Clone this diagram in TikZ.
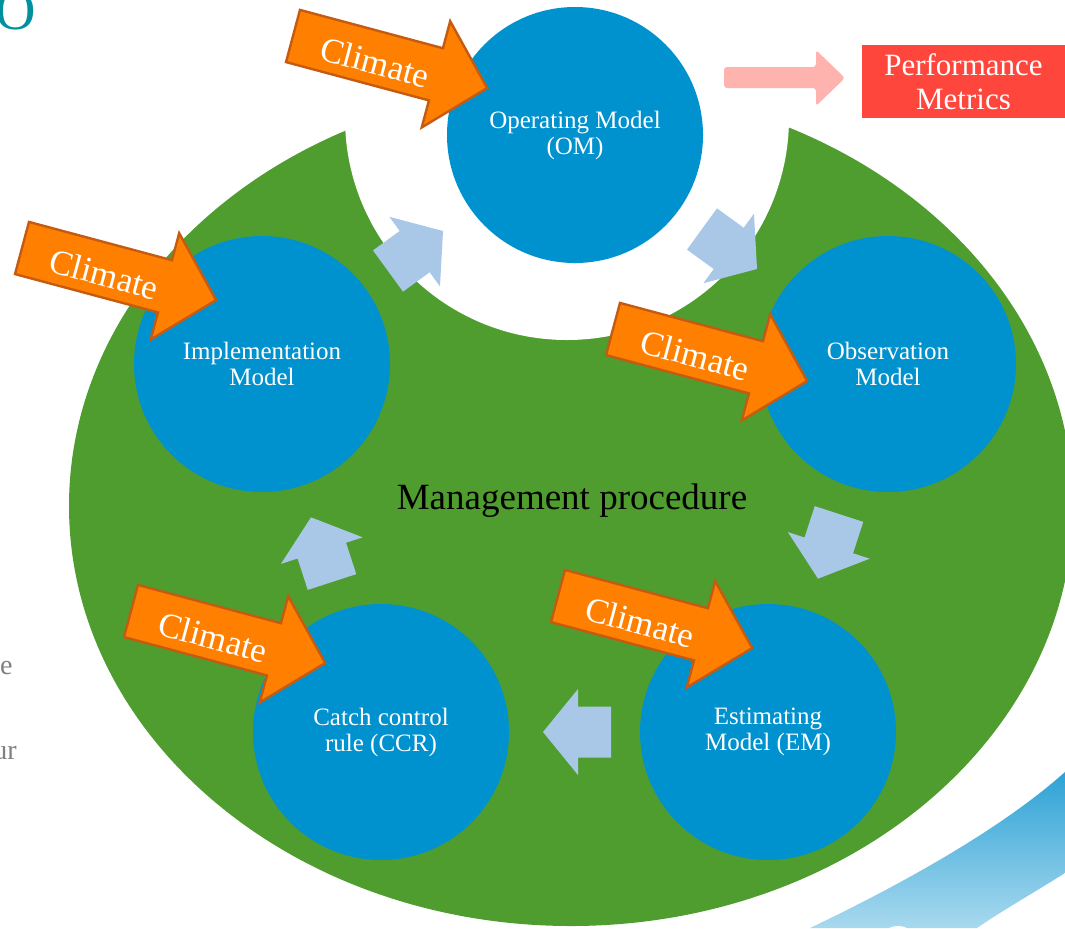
\documentclass[tikz,border=0pt]{standalone}
\usepackage{fontspec}
\setmainfont{Liberation Serif}
\usetikzlibrary{positioning,calc}

\definecolor{mpgreen}{HTML}{4F9D2F}
\definecolor{modelblue}{HTML}{0092CF}
\definecolor{flowblue}{HTML}{A9C7E6}
\definecolor{climfill}{HTML}{FF8000}
\definecolor{climedge}{HTML}{C55A11}
\definecolor{perfred}{HTML}{FF463C}
\definecolor{perfpink}{HTML}{FFB3AE}
\definecolor{titleteal}{HTML}{00909E}
\definecolor{swooshtop}{HTML}{2EA2D6}
\definecolor{swooshbot}{HTML}{A8D9EE}

% orange arrow: tail middle, angle, name
\newcommand{\climatearrow}[3]{%
  \begin{scope}[shift={#1},rotate=#2]
    \draw[climate] (0,-27) -- (148,-27) -- (148,-55) -- (201,0) -- (148,55) -- (148,27) -- (0,27) -- cycle;
    \node[climatetext,rotate=#2] (#3) at (86,4) {Climate};
  \end{scope}}
% light blue arrow: tail middle, angle
\newcommand{\flowarrow}[2]{%
  \fill[flowblue,shift={#1},rotate=#2] (0,-25.5) -- (33,-25.5) -- (33,-43) -- (68,0) -- (33,43) -- (33,25.5) -- (0,25.5) -- cycle;}

\begin{document}
\begin{tikzpicture}[x=0.5pt,y=-0.5pt,
    model/.style={circle,fill=modelblue,minimum size=128pt,inner sep=0pt,align=center,
      text=white,font=\fontsize{12.5}{13}\selectfont},
    climate/.style={fill=climfill,draw=climedge,line width=1.2pt,line join=miter},
    climatetext/.style={text=white,font=\fontsize{17.5}{17.5}\selectfont,inner sep=0pt},
    slidetext/.style={anchor=base east,text=gray,font=\fontsize{14}{14}\selectfont,inner sep=0pt}]
    \useasboundingbox (0,0) rectangle (1065,928);
    \clip (0,0) rectangle (1065,928);
    % background shapes
    \fill[mpgreen] (571,506) ellipse [x radius=502, y radius=420];
    \fill[white] (567,118) circle [radius=222];
    \shade[top color=swooshtop,bottom color=swooshbot] (810,928) .. controls (900,885) and (1000,830) .. (1065,772)
      -- (1065,873) .. controls (1030,895) and (1000,912) .. (977,928) -- cycle;
    \fill[white] (898,946) circle [radius=20];
    % cut-off slide text
    \node[anchor=base east,text=titleteal,font=\fontsize{28}{28}\selectfont,inner sep=0pt] (title) at (36,29) {O};
    \node[slidetext] (texte) at (13,674) {e};
    \node[slidetext] (textur) at (17,759) {ur};
    % models
    \node[model] (om) at (575,135) {Operating Model\\(OM)};
    \node[model] (impl) at (262,364) {Implementation\\Model};
    \node[model] (obs) at (888,364) {Observation\\Model};
    \node[model] (ccr) at (381,732) {Catch control\\rule (CCR)};
    \node[model] (em) at (768,732) {Estimating\\Model (EM)};
    \node[font=\fontsize{18.5}{18.5}\selectfont] (mp) at (572,501) {Management procedure};
    % cycle arrows
    \flowarrow{(388,271)}{36}
    \flowarrow{(702,229)}{-36}
    \flowarrow{(839,514)}{-108}
    \flowarrow{(611,732)}{180}
    \flowarrow{(332,582)}{108}
    % performance
    \fill[perfpink,rounded corners=1.5pt] (724,67) -- (816,67) -- (816,50) -- (845,78) -- (816,106) -- (816,88) -- (724,88) -- cycle;
    \node[fill=perfred,text=white,minimum width=101.5pt,minimum height=36.5pt,inner sep=0pt,align=center,
      font=\fontsize{15.5}{17}\selectfont] (perf) at (963.5,81.5) {Performance\\Metrics};
    % climate forcing
    \climatearrow{(293,36)}{-15}{climom}
    \climatearrow{(22,248)}{-15}{climimpl}
    \climatearrow{(613,329)}{-15}{climobs}
    \climatearrow{(131,611)}{-15}{climccr}
    \climatearrow{(558,596)}{-15}{climem}
\end{tikzpicture}
\end{document}
